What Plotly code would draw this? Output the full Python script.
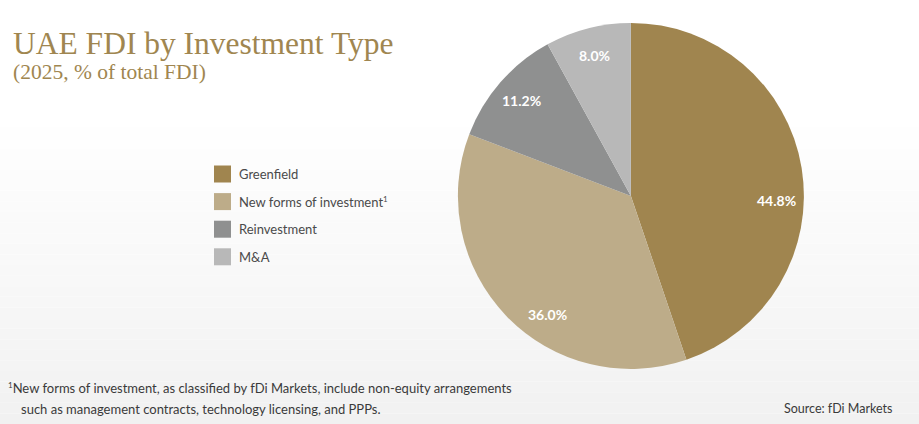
import math
import plotly.graph_objects as go

# data
categories = ["Greenfield", "New forms of investment<sup><span style='font-size:8px'>1</span></sup>",
              "Reinvestment", "M&A"]
shares = [44.8, 36.0, 11.2, 8.0]
slice_colors = ["#a0854f", "#bdac89", "#8f9090", "#b8b8b8"]

title_text = "UAE FDI by Investment Type"
subtitle_text = "(2025, % of total FDI)"
footnote_lines = [
    "<sup><span style='font-size:8px'>1</span></sup>New forms of investment, as classified by fDi Markets, "
    "include non-equity arrangements",
    "such as management contracts, technology licensing, and PPPs.",
]
source_text = "Source: fDi Markets"

gold = "#a08650"
sans = "Lato, 'Open Sans', sans-serif"
serif = "'Liberation Serif', serif"

W, H = 919, 424
pie_x = [0.498, 0.875]
pie_y = [0.13, 0.946]
# label placement: fraction of radius, plus small angular nudges (degrees) per slice
label_r = 0.84
label_nudge = [11, -11, 0, 0]

fig = go.Figure(go.Pie(
    labels=categories,
    values=shares,
    marker=dict(colors=slice_colors, line=dict(width=0)),
    sort=False,
    direction="clockwise",
    rotation=0,
    textinfo="none",
    hovertemplate="%{label}: %{value:.1f}%<extra></extra>",
    domain=dict(x=pie_x, y=pie_y),
    showlegend=False,
))

# soft vertical background fade: white at the top, light grey at the bottom
shapes = []
n_bands = 40
for i in range(n_bands):
    y0 = i / n_bands
    y1 = (i + 1) / n_bands
    t = max(0.0, 1 - (y0 + y1) / 2 / 0.72)
    g = round(255 - 14 * t)
    shapes.append(dict(type="rect", xref="paper", yref="paper", x0=0, x1=1, y0=y0, y1=y1,
                       fillcolor=f"rgb({g},{g},{g})", line=dict(width=0), layer="below"))

annotations = [
    dict(text=title_text, x=0.012, y=0.851, xref="paper", yref="paper", xanchor="left", yanchor="bottom",
         showarrow=False, font=dict(family=serif, size=31.5, color=gold)),
    dict(text=subtitle_text, x=0.012, y=0.796, xref="paper", yref="paper", xanchor="left", yanchor="bottom",
         showarrow=False, font=dict(family=serif, size=21.5, color=gold)),
    dict(text=footnote_lines[0], x=0.007, y=0.085, xref="paper", yref="paper", xanchor="left", yanchor="middle",
         showarrow=False, font=dict(family=sans, size=13, color="#3a3a3a")),
    dict(text=footnote_lines[1], x=0.021, y=0.036, xref="paper", yref="paper", xanchor="left", yanchor="middle",
         showarrow=False, font=dict(family=sans, size=13, color="#3a3a3a")),
    dict(text=source_text, x=0.973, y=0.036, xref="paper", yref="paper", xanchor="right", yanchor="middle",
         showarrow=False, font=dict(family=sans, size=12.5, color="#3a3a3a")),
]

# percentage labels, placed from the cumulative shares
cx_px = (pie_x[0] + pie_x[1]) / 2 * W
cy_px = (1 - (pie_y[0] + pie_y[1]) / 2) * H
radius_px = min((pie_x[1] - pie_x[0]) * W, (pie_y[1] - pie_y[0]) * H) / 2
total = sum(shares)
cum = 0.0
for val, nudge in zip(shares, label_nudge):
    theta = math.radians((cum + val / 2) / total * 360 + nudge)
    cum += val
    px = cx_px + label_r * radius_px * math.sin(theta)
    py = cy_px - label_r * radius_px * math.cos(theta)
    annotations.append(dict(
        text=f"{val:.1f}%", x=px / W, y=1 - py / H, xref="paper", yref="paper",
        xanchor="center", yanchor="middle", showarrow=False,
        font=dict(family=sans, size=14, color="white", weight="bold"),
    ))

# legend built from the categories and colours
leg_x0, leg_top, leg_step, box = 214, 174, 27.6, 17
for i, (name, col) in enumerate(zip(categories, slice_colors)):
    yc = leg_top + i * leg_step
    shapes.append(dict(type="rect", xref="paper", yref="paper",
                       x0=leg_x0 / W, x1=(leg_x0 + box) / W,
                       y0=1 - (yc + box / 2) / H, y1=1 - (yc - box / 2) / H,
                       fillcolor=col, line=dict(width=0)))
    annotations.append(dict(
        text=name, x=(leg_x0 + box + 6) / W, y=1 - yc / H, xref="paper", yref="paper",
        xanchor="left", yanchor="middle", showarrow=False,
        font=dict(family=sans, size=13, color="#4a4a4a"),
    ))

fig.update_layout(
    width=W,
    height=H,
    margin=dict(l=0, r=0, t=0, b=0),
    paper_bgcolor="white",
    plot_bgcolor="white",
    showlegend=False,
    shapes=shapes,
    annotations=annotations,
)

fig.write_html("out.html", config={"displayModeBar": False},
               post_script="document.body.style.margin='0px';")
